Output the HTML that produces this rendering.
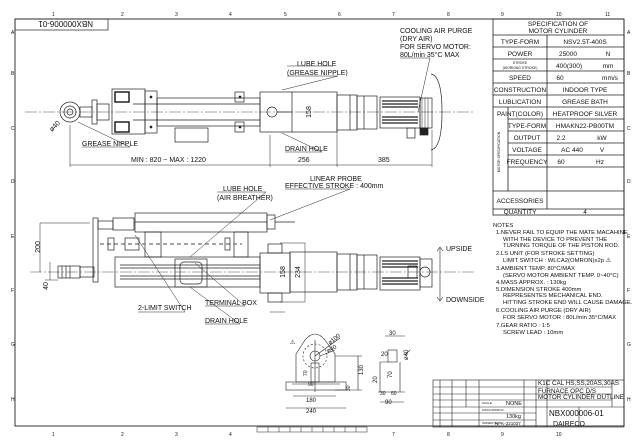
<!DOCTYPE html>
<html><head><meta charset="utf-8"><style>
html,body{margin:0;padding:0;background:#fff;width:640px;height:444px;overflow:hidden}
svg{display:block}
text{font-family:"Liberation Sans",sans-serif;fill:#111}
</style></head><body>
<svg width="640" height="444" viewBox="0 0 640 444" xmlns="http://www.w3.org/2000/svg" stroke="#222" fill="none" stroke-width="0.7">
<rect x="15" y="19" width="609" height="407" stroke-width="0.9"/>
<g font-size="5" stroke="none">
<text x="52" y="16">1</text><text x="121" y="16">2</text><text x="175" y="16">3</text><text x="229" y="16">4</text><text x="284" y="16">5</text><text x="338" y="16">6</text><text x="392" y="16">7</text><text x="447" y="16">8</text><text x="501" y="16">9</text><text x="556" y="16">10</text><text x="605" y="16">11</text>
<text x="52" y="436">1</text><text x="121" y="436">2</text><text x="175" y="436">3</text><text x="229" y="436">4</text><text x="392" y="436">7</text><text x="447" y="436">8</text><text x="501" y="436">9</text><text x="556" y="436">10</text>
<text x="11" y="34">A</text><text x="11" y="75">B</text><text x="11" y="130">C</text><text x="11" y="183">D</text><text x="11" y="238">E</text><text x="11" y="292">F</text><text x="11" y="346">G</text><text x="11" y="401">H</text>
<text x="627" y="34">A</text><text x="627" y="75">B</text><text x="627" y="130">C</text><text x="627" y="183">D</text><text x="627" y="238">E</text><text x="627" y="292">F</text><text x="627" y="346">G</text><text x="627" y="401">H</text>
</g>
<rect x="15" y="19" width="93" height="11"/>
<text x="30" y="28" font-size="8" stroke="none" transform="rotate(180 61.5 24.5)">NBX000006-01</text>
<g stroke-width="0.5"><rect x="257" y="427" width="110" height="5"/><path d="M268 427v5M279 427v5M290 427v5M301 427v5M312 427v5M323 427v5M334 427v5M345 427v5M356 427v5"/></g>

<g stroke-width="0.8">
<rect x="493" y="19" width="131" height="196"/>
<path d="M493 35H624M493 47H624M493 59H624M493 71H624M493 83H624M493 95H624M493 107H624M508 119H624M508 131H624M508 143H624M508 155H624M508 167H624M493 191H624M493 209H624"/>
<path d="M547 35V209M508 107V191"/>
</g>
<g font-size="6.5" stroke="none" text-anchor="middle">
<text x="558" y="26">SPECIFICATION OF</text><text x="558" y="33">MOTOR CYLINDER</text>
<text x="520" y="44">TYPE-FORM</text><text x="585" y="44">NSV2.5T-400S</text>
<text x="520" y="56">POWER</text><text x="568" y="56">25000</text><text x="608" y="56">N</text>
<text x="520" y="64" font-size="3.5">STROKE</text><text x="520" y="69" font-size="3.5">(WORKING STROKE)</text><text x="569" y="68">400(300)</text><text x="608" y="68">mm</text>
<text x="520" y="80">SPEED</text><text x="560" y="80">60</text><text x="610" y="80">mm/s</text>
<text x="520" y="92">CONSTRUCTION</text><text x="585" y="92">INDOOR TYPE</text>
<text x="520" y="104">LUBLICATION</text><text x="585" y="104">GREASE BATH</text>
<text x="520" y="116">PAINT(COLOR)</text><text x="585" y="116">HEATPROOF SILVER</text>
<text x="527" y="128">TYPE-FORM</text><text x="585" y="128">HMAKN22-PB00TM</text>
<text x="527" y="140">OUTPUT</text><text x="561" y="140">2.2</text><text x="602" y="140">kW</text>
<text x="527" y="152">VOLTAGE</text><text x="572" y="152">AC 440</text><text x="602" y="152">V</text>
<text x="527" y="164">FREQUENCY</text><text x="561" y="164">60</text><text x="600" y="164">Hz</text>
<text x="500" y="152" font-size="3.5" transform="rotate(-90 500 152)">MOTOR SPECIFICATION</text>
<text x="520" y="203">ACCESSORIES</text>
<text x="520" y="214">QUANTITY</text><text x="585" y="214">4</text>
</g>
<g font-size="5.9" stroke="none">
<text x="493" y="227">NOTES</text>
<text x="496" y="234">1.NEVER FAIL TO EQUIP THE MATE MACAHINE</text>
<text x="503" y="241">WITH THE DEVICE TO PREVENT THE</text>
<text x="503" y="247">TURNING TORQUE OF THE PISTON ROD.</text>
<text x="496" y="255">2.LS UNIT (FOR STROKE SETTING)</text>
<text x="503" y="262">LIMIT SWITCH : WLCA2(OMRON)x2p  ⚠</text>
<text x="496" y="270">3.AMBIENT TEMP. 80°C/MAX</text>
<text x="503" y="277">(SERVO MOTOR AMBIENT TEMP. 0~40°C)</text>
<text x="496" y="284">4.MASS APPROX. : 130kg</text>
<text x="496" y="291">5.DIMENSION STROKE 400mm</text>
<text x="503" y="297">REPRESENTES MECHANICAL END.</text>
<text x="503" y="304">HITTING STROKE END WILL CAUSE DAMAGE.</text>
<text x="496" y="312">6.COOLING AIR PURGE (DRY AIR)</text>
<text x="503" y="319">FOR SERVO MOTOR : 80L/min 35°C/MAX</text>
<text x="496" y="327">7.GEAR RATIO : 1:5</text>
<text x="503" y="334">SCREW LEAD : 10mm</text>
</g>
<g stroke-width="0.6">
<rect x="433" y="380" width="191" height="47"/>
<path d="M433 387H536M433 394H536M433 400H536M433 407H624M433 413H536M433 420H536M536 387H612M536 394H612M536 400H612"/>
<path d="M440 380V427M452 380V427M466 380V407M479 380V427M524 380V427M536 380V427M547 380V427M612 380V407M579 407V427"/>
</g>
<g stroke="none" font-size="6.3">
<text x="538" y="385">K1C CAL HS,SS,20AS,30AS</text>
<text x="538" y="393">FURNACE OPC D/S</text>
<text x="538" y="399">MOTOR CYLINDER OUTLINE</text>
<text x="549" y="416" font-size="8">NBX000006-01</text>
<text x="506" y="405" font-size="5.5">NONE</text>
<text x="506" y="418" font-size="5.5">130kg</text>
<text x="495" y="425" font-size="4.5">NPK-221037</text>
<text x="553" y="426" font-size="7" fill="#999">DAIRECO</text>
<text x="482" y="404" font-size="3">SCALE</text>
<text x="482" y="411" font-size="3">MASS APPROX.</text>
<text x="482" y="424" font-size="3">ORDER No.</text>
</g>

<path d="M25 112H475" stroke-dasharray="12 2 2 2" stroke-width="0.4"/>
<circle cx="70" cy="112" r="10"/><circle cx="70" cy="112" r="6"/><circle cx="70" cy="112" r="3"/>
<rect x="80" y="107" width="12" height="10"/><rect x="92" y="100" width="5" height="24"/><rect x="97" y="104" width="12" height="16"/>
<rect x="112" y="89" width="33" height="45"/><rect x="115" y="92" width="14" height="10" stroke-width="1.5"/><rect x="115" y="122" width="14" height="10" stroke-width="1.5"/>
<rect x="145" y="91" width="12" height="42"/><circle cx="151" cy="97" r="1" fill="#222"/><circle cx="151" cy="127" r="1" fill="#222"/>
<rect x="157" y="98" width="103" height="28"/><path d="M133 104H260M133 120H260"/>
<rect x="235" y="92" width="9" height="10"/><rect x="235" y="122" width="9" height="10"/><circle cx="240" cy="97" r="1" fill="#222"/><circle cx="240" cy="127" r="1" fill="#222"/>
<rect x="175" y="128" width="33" height="14"/>
<rect x="260" y="92" width="77" height="40"/><path d="M292 92V132"/>
<circle cx="272" cy="112" r="5"/><path d="M277 112H292"/>
<rect x="337" y="95" width="20" height="35"/><rect x="357" y="96" width="20" height="33"/><path d="M350 95V130M364 96V129"/>
<rect x="380" y="97" width="40" height="31"/>
<g stroke-width="1.3"><path d="M382 101H418M382 104H418M382 107H418M382 117H418M382 120H418M382 123H418"/></g>
<rect x="420" y="98" width="12" height="30"/><path d="M422 98V128M425 98V128M428 98V128" stroke-width="0.5"/>
<rect x="407" y="128" width="8" height="10"/><rect x="420" y="128" width="8" height="7" fill="#222"/>
<path d="M431 74 Q442 76 442 112 Q442 148 431 150"/>
<path d="M400 58H430L418 112" stroke-width="0.5"/>
<g stroke="none" font-size="7">
<text x="400" y="33">COOLING AIR PURGE</text><text x="400" y="41">(DRY AIR)</text><text x="400" y="49">FOR SERVO MOTOR:</text><text x="400" y="57">80L/min 35°C MAX</text>
<text x="297" y="66">LUBE HOLE</text><text x="287" y="75">(GREASE NIPPLE)</text>
<text x="82" y="146">GREASE NIPPLE</text>
<text x="285" y="151">DRAIN HOLE</text>
<text x="131" y="162">MIN : 820 ~ MAX : 1220</text>
<text x="298" y="162">256</text><text x="378" y="162">385</text>
<text x="311" y="112" transform="rotate(-90 311 112)" text-anchor="middle">158</text>
<text x="52" y="132" transform="rotate(-45 52 132)">ø40</text>
</g>
<path d="M287 66H333M287 76H338L282 90M285 152H322L282 133M82 147H130L78 122" stroke-width="0.5"/>
<path d="M70 165H432M70 125V167M270 135V167M337 130V167M432 130V167" stroke-width="0.5"/>

<path d="M30 272H475" stroke-dasharray="12 2 2 2" stroke-width="0.4"/>
<rect x="58" y="266" width="22" height="12"/><path d="M62 266V278M66 266V278M70 266V278"/><rect x="80" y="267" width="14" height="10"/>
<rect x="93" y="218" width="5" height="64"/>
<rect x="98" y="221" width="15" height="8"/><rect x="113" y="218" width="21" height="12"/>
<rect x="135" y="213" width="132" height="19"/><path d="M135 222H267"/>
<rect x="267" y="215" width="8" height="14"/><path d="M275 222H295"/>
<rect x="145" y="232" width="16" height="25"/><rect x="234" y="232" width="14" height="25"/>
<path d="M100 244H242" stroke-dasharray="4 3" stroke-width="1.5" stroke="#888"/>
<rect x="108" y="238" width="6" height="12"/><rect x="125" y="238" width="14" height="12"/><rect x="225" y="238" width="5" height="12"/>
<rect x="115" y="257" width="145" height="30"/><path d="M120 265H260M120 268H260M120 276H260M120 279H260"/>
<rect x="175" y="259" width="32" height="28"/><rect x="180" y="262" width="22" height="22" rx="4"/>
<rect x="260" y="253" width="30" height="40"/><rect x="268" y="244" width="14" height="9"/><rect x="268" y="293" width="14" height="9"/>
<rect x="290" y="252" width="47" height="40"/>
<rect x="337" y="254" width="20" height="36"/><rect x="357" y="255" width="20" height="34"/><path d="M350 254V290M364 255V289"/>
<rect x="380" y="257" width="40" height="33"/>
<g stroke-width="1.3"><path d="M382 261H418M382 264H418M382 267H418M382 278H418M382 281H418M382 284H418"/></g>
<rect x="408" y="266" width="9" height="12"/><circle cx="425" cy="272" r="5"/><rect x="420" y="259" width="12" height="28"/>
<path d="M40 223H90M40 223V272M50 262V280M45 280H58" stroke-width="0.5"/>
<path d="M440 248V300" stroke-width="0.6"/><path d="M437 251l3-4 3 4M437 297l3 4 3-4" stroke-width="0.6"/>
<path d="M280 243H305V302H280M290 253V292M270 312H285" stroke-width="0.5"/>
<g stroke="none" font-size="7">
<text x="446" y="251">UPSIDE</text><text x="446" y="302">DOWNSIDE</text>
<text x="223" y="191">LUBE HOLE</text><text x="217" y="200">(AIR BREATHER)</text>
<text x="310" y="181">LINEAR PROBE</text><text x="285" y="188">EFFECTIVE STROKE : 400mm</text>
<text x="138" y="310">2-LIMIT SWITCH</text>
<text x="205" y="305">TERMINAL BOX</text>
<text x="205" y="323">DRAIN HOLE</text>
<text x="40" y="247" transform="rotate(-90 40 247)" text-anchor="middle">200</text>
<text x="48" y="286" transform="rotate(-90 48 286)" text-anchor="middle">40</text>
<text x="285" y="272" transform="rotate(-90 285 272)" text-anchor="middle">158</text>
<text x="300" y="272" transform="rotate(-90 300 272)" text-anchor="middle">234</text>
</g>
<path d="M217 192H266L190 257M285 189H350L270 220M138 312H185L135 235M205 306H245L195 263M205 324H240L190 287" stroke-width="0.5"/>

<g stroke-width="0.6">
<path d="M296 354L305 340Q315 328 325 340L335 354V382H296Z"/>
<circle cx="315" cy="356" r="5"/><circle cx="315" cy="356" r="12" stroke-dasharray="2 2"/>
<rect x="286" y="382" width="60" height="8"/><rect x="311" y="363" width="8" height="19"/>
<path d="M315 340V392M292 384H340"/>
<path d="M293 396H336M286 408H346M315 356L340 338M320 356L335 350M335 356H362M335 390H362M358 356V390"/>
<rect x="388" y="350" width="9" height="12"/><path d="M388 362H380V392H400V362M378 392H405"/>
<path d="M385 336H405M380 402H404M405 355L410 350"/>
</g>
<g stroke="none" font-size="6">
<text x="290" y="344">⚠</text>
<text x="330" y="345" transform="rotate(-40 330 345)">ø100</text>
<text x="328" y="353" transform="rotate(-30 328 353)">ø40</text>
<text x="306" y="402">180</text><text x="306" y="413">240</text>
<text x="308" y="386" font-size="5">90</text>
<text x="307" y="376" transform="rotate(-90 307 376)" font-size="5">70</text>
<text x="363" y="375" transform="rotate(-90 363 375)">130</text>
<text x="350" y="391" transform="rotate(-90 350 391)" font-size="5">30</text>
<text x="389" y="335">30</text><text x="381" y="356">20</text>
<text x="408" y="360" transform="rotate(-90 408 360)">ø40</text>
<text x="392" y="378" transform="rotate(-90 392 378)">70</text>
<text x="377" y="383" transform="rotate(-90 377 383)">20</text>
<text x="380" y="395" font-size="5">30</text><text x="391" y="395" font-size="5">60</text>
<text x="385" y="404">90</text>
</g>
</svg>
</body></html>
